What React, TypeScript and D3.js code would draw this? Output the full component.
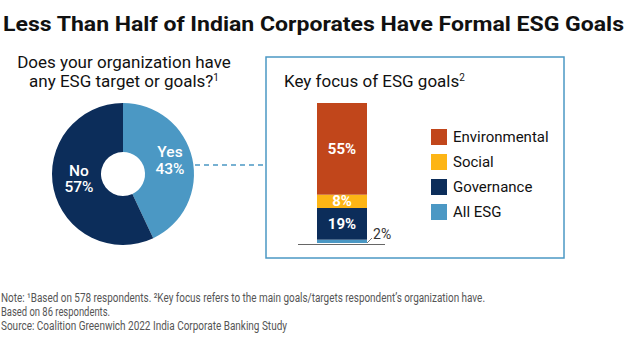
import React from "react";
import * as d3 from "d3";

const pieLabels = ["Yes", "No"];
const pieValues = [43, 57];
const pieColors = ["#4b98c4", "#0c2d5a"];

const focusCategories = ["All ESG", "Governance", "Social", "Environmental"];
const focusValues = [2, 19, 8, 55];
const focusColors = ["#4b98c4", "#0c2d5a", "#fdb515", "#c1461b"];
const legendOrder = ["Environmental", "Social", "Governance", "All ESG"];

const W = 630, H = 345;
const FONT = "Roboto, 'Noto Sans', sans-serif";

export default function App() {
  const cx = 123, cy = 174, rOut = 71, rIn = 22;
  const pie = d3.pie<number>().sort(null).value((d) => d)(pieValues);
  const arc = d3.arc<d3.PieArcDatum<number>>().innerRadius(rIn).outerRadius(rOut);

  const total = d3.sum(focusValues);
  const barBottom = 243, barTop = 103;
  const y = d3.scaleLinear().domain([0, total]).range([barBottom, barTop]);
  const barX = 317, barW = 50;
  const stacked = focusValues.map((v, i) => {
    const start = d3.sum(focusValues.slice(0, i));
    return { v, i, y0: y(start), y1: y(start + v) };
  });

  const labelPos = [
    { x: 170, y1: 157, y2: 174 },
    { x: 79, y1: 176, y2: 192 },
  ];

  return (
    <svg width={W} height={H} style={{ position: "absolute", left: 0, top: 0, background: "#fff" }} fontFamily={FONT}>
      <rect width={W} height={H} fill="#fff" />
      <text x={3} y={31} fontSize={21} fontWeight={700} fill="#111" textLength={621} lengthAdjust="spacingAndGlyphs">
        Less Than Half of Indian Corporates Have Formal ESG Goals
      </text>

      <text x={124} y={68} fontSize={17} fill="#111" textAnchor="middle">Does your organization have</text>
      <text x={124} y={87} fontSize={17} fill="#111" textAnchor="middle">
        any ESG target or goals?<tspan fontSize={10} dy={-6}>1</tspan>
      </text>

      <g transform={`translate(${cx},${cy})`}>
        {pie.map((p, i) => (
          <path key={i} d={arc(p) || ""} fill={pieColors[i]} />
        ))}
      </g>
      {pieLabels.map((l, i) => (
        <g key={l} fill="#fff" fontSize={15.5} fontWeight={500} textAnchor="middle">
          <text x={labelPos[i].x} y={labelPos[i].y1}>{l}</text>
          <text x={labelPos[i].x} y={labelPos[i].y2}>{pieValues[i]}%</text>
        </g>
      ))}

      <line x1={195} x2={266} y1={165} y2={165} stroke="#4b98c4" strokeWidth={1.5} strokeDasharray="5,4" />

      <rect x={266} y={57} width={298} height={201} fill="none" stroke="#4b98c4" strokeWidth={1.5} />
      <text x={284} y={87} fontSize={17} fill="#111">
        Key focus of ESG goals<tspan fontSize={10} dy={-6}>2</tspan>
      </text>

      {stacked.map((s) => (
        <rect key={s.i} x={barX} y={s.y1} width={barW} height={s.y0 - s.y1} fill={focusColors[s.i]} />
      ))}
      {stacked.map((s) =>
        s.v >= 5 ? (
          <text key={"t" + s.i} x={barX + barW / 2} y={(s.y0 + s.y1) / 2 + 5} fontSize={15} fontWeight={700}
            fill="#fff" textAnchor="middle">{s.v}%</text>
        ) : null
      )}
      <line x1={298} x2={385} y1={244.5} y2={244.5} stroke="#666" strokeWidth={1.2} />
      <line x1={barX + barW} y1={243} x2={372} y2={238} stroke="#555" strokeWidth={0.8} />
      <text x={373} y={239} fontSize={14} fill="#333">{focusValues[0]}%</text>

      {legendOrder.map((name, k) => {
        const idx = focusCategories.indexOf(name);
        const ly = 129 + k * 25;
        return (
          <g key={name}>
            <rect x={431} y={ly} width={16} height={16} fill={focusColors[idx]} />
            <text x={453} y={ly + 13} fontSize={15} fill="#111">{name}</text>
          </g>
        );
      })}

      <g fontSize={12.5} fill="#555">
        <text x={1} y={302} textLength={484} lengthAdjust="spacingAndGlyphs">
          Note: ¹Based on 578 respondents. ²Key focus refers to the main goals/targets respondent’s organization have.
        </text>
        <text x={1} y={316} textLength={109} lengthAdjust="spacingAndGlyphs">Based on 86 respondents.</text>
        <text x={1} y={330} textLength={286} lengthAdjust="spacingAndGlyphs">
          Source: Coalition Greenwich 2022 India Corporate Banking Study
        </text>
      </g>
    </svg>
  );
}
